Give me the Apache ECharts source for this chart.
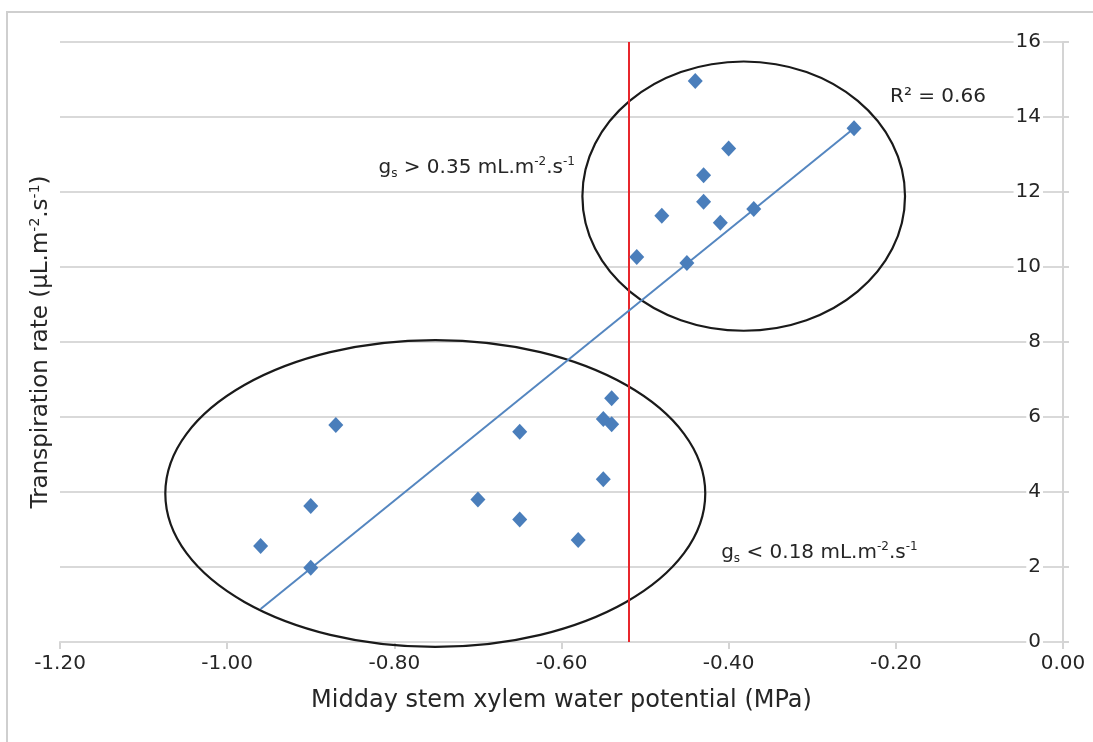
<!DOCTYPE html>
<html lang="en">
<head>
<meta charset="UTF-8">
<title>Transpiration rate vs midday stem xylem water potential</title>
<script src="https://cdn.jsdelivr.net/npm/echarts@6/dist/echarts.min.js"></script>
</head>
<body style="margin:0;background:#fff">
<div id="main" style="width:1093px;height:742px"></div>
<script type="text/javascript">
// measured points
var waterPotential = [-0.44, -0.25, -0.40, -0.43, -0.43, -0.48, -0.41, -0.37, -0.51, -0.45,
                      -0.54, -0.55, -0.54, -0.87, -0.65, -0.55, -0.70, -0.90, -0.65, -0.96, -0.58, -0.90];
var transpiration  = [14.96, 13.70, 13.16, 12.45, 11.74, 11.37, 11.18, 11.55, 10.27, 10.11,
                      6.50, 5.95, 5.81, 5.79, 5.61, 4.34, 3.80, 3.63, 3.27, 2.56, 2.72, 1.98];

// linear trendline, read at its two ends
var trendX = [-0.96, -0.25];
var trendY = [0.88, 13.70];

// red threshold line
var thresholdX = -0.52;

// ellipses: centre x, centre y, radius x, radius y
var ellipseUpper = [-0.382, 11.89, 0.193, 3.59];
var ellipseLower = [-0.751, 3.96, 0.323, 4.09];

// annotation texts and where their left edge sits
var noteTexts = [
    '{n|R² = 0.66}',
    '{n|g}{sub|s}{n| > 0.35 mL.m}{sup|-2}{n|.s}{sup|-1}',
    '{n|g}{sub|s}{n| < 0.18 mL.m}{sup|-2}{n|.s}{sup|-1}'
];
var noteX = [-0.207, -0.819, -0.409];
var noteY = [14.53, 12.64, 2.37];

var xMin = -1.2, xMax = 0, xStep = 0.2;
var yMin = 0, yMax = 16, yStep = 2;

var FONT = 'DejaVu Sans';
var TXT = '#262626';

var chart = echarts.init(document.getElementById('main'));

var points = waterPotential.map(function (x, i) { return [x, transpiration[i]]; });
var trend = trendX.map(function (x, i) { return [x, trendY[i]]; });
var notes = noteTexts.map(function (t, i) { return { value: [noteX[i], noteY[i]], label: { formatter: t } }; });

var richText = {
    n: { fontFamily: FONT, fontSize: 20, color: TXT, lineHeight: 24 },
    sub: { fontFamily: FONT, fontSize: 12, color: TXT, lineHeight: 12, verticalAlign: 'bottom' },
    sup: { fontFamily: FONT, fontSize: 12, color: TXT, lineHeight: 12, verticalAlign: 'top' }
};

var option = {
    backgroundColor: '#fff',
    animation: false,
    graphic: [{
        type: 'line',
        shape: { x1: 7, y1: 11, x2: 7, y2: 742 },
        style: { stroke: '#cfcfcf', lineWidth: 2 },
        z: 0
    }, {
        type: 'line',
        shape: { x1: 6, y1: 12, x2: 1093, y2: 12 },
        style: { stroke: '#cfcfcf', lineWidth: 2 },
        z: 0
    }],
    grid: { left: 60, right: 30, top: 42, bottom: 100 },
    xAxis: {
        type: 'value',
        min: xMin, max: xMax, interval: xStep,
        name: 'Midday stem xylem water potential (MPa)',
        nameLocation: 'middle',
        nameGap: 47,
        nameTextStyle: { fontFamily: FONT, fontSize: 24, color: TXT },
        axisLine: { onZero: false, lineStyle: { color: '#d4d4d4', width: 2 } },
        axisTick: { show: true, length: 7, lineStyle: { color: '#d4d4d4', width: 2 } },
        axisLabel: {
            fontFamily: FONT, fontSize: 20, color: TXT, margin: 12,
            formatter: function (v) { return v.toFixed(2); }
        },
        splitLine: { show: false }
    },
    yAxis: [{
        type: 'value',
        position: 'right',
        min: yMin, max: yMax, interval: yStep,
        axisLine: { show: true, lineStyle: { color: '#d4d4d4', width: 2 } },
        axisTick: { show: true, length: 6, lineStyle: { color: '#d4d4d4', width: 2 } },
        axisLabel: {
            inside: true, margin: 20,
            fontFamily: FONT, fontSize: 20, color: TXT,
            backgroundColor: '#fff', padding: [0, 2]
        },
        splitLine: { show: true, lineStyle: { color: '#d9d9d9', width: 2 } },
        z: 3
    }, {
        type: 'value',
        position: 'left',
        min: yMin, max: yMax,
        name: '{n|Transpiration rate (µL.m}{sup|-2}{n|.s}{sup|-1}{n|)}',
        nameLocation: 'middle',
        nameGap: 5,
        nameTextStyle: {
            rich: {
                n: { fontFamily: FONT, fontSize: 23, color: TXT, lineHeight: 27 },
                sup: { fontFamily: FONT, fontSize: 14, color: TXT, lineHeight: 14, verticalAlign: 'top' }
            }
        },
        axisLine: { show: false },
        axisTick: { show: false },
        axisLabel: { show: false },
        splitLine: { show: false }
    }],
    series: [{
        name: 'ellipses',
        type: 'custom',
        clip: false,
        z: 4,
        data: [ellipseUpper, ellipseLower],
        renderItem: function (params, api) {
            var c = api.coord([api.value(0), api.value(1)]);
            var s = api.size([api.value(2), api.value(3)]);
            return {
                type: 'ellipse',
                shape: { cx: c[0], cy: c[1], rx: s[0], ry: s[1] },
                style: { fill: 'none', stroke: '#1a1a1a', lineWidth: 2.2 }
            };
        }
    }, {
        name: 'trend',
        type: 'line',
        z: 5,
        data: trend,
        symbol: 'none',
        lineStyle: { color: '#5486c0', width: 2 },
        markLine: {
            silent: true,
            symbol: 'none',
            label: { show: false },
            lineStyle: { color: '#e8262c', width: 2, type: 'solid' },
            data: [{ xAxis: thresholdX }]
        }
    }, {
        name: 'points',
        type: 'scatter',
        z: 6,
        data: points,
        symbol: 'diamond',
        symbolSize: [15, 16],
        itemStyle: { color: '#4a7ebb', opacity: 1 }
    }, {
        name: 'notes',
        type: 'scatter',
        z: 7,
        data: notes,
        symbolSize: 0,
        silent: true,
        itemStyle: { opacity: 1 },
        label: {
            show: true,
            position: 'right',
            distance: 0,
            color: TXT,
            rich: richText
        }
    }]
};

chart.setOption(option);
</script>
</body>
</html>
